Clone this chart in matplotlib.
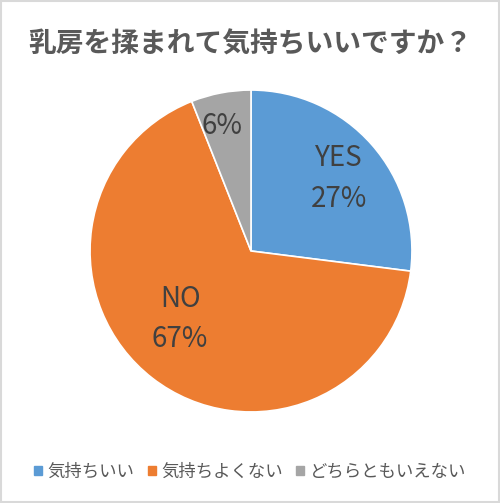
import numpy as np
import matplotlib.pyplot as plt
from matplotlib.patches import Rectangle

plt.rcParams['font.family'] = ['Noto Sans CJK JP', 'DejaVu Sans']

title = '乳房を揉まれて気持ちいいですか？'
categories = ['気持ちいい', '気持ちよくない', 'どちらともいえない']
slice_labels = ['YES\n27%', 'NO\n67%', '6%']
values = [27, 67, 6]
colors = ['#5B9BD5', '#ED7D31', '#A5A5A5']

fig = plt.figure(figsize=(5.0, 5.03), dpi=100)
ax = fig.add_axes([0.18, 0.181, 0.644, 0.640])

wedges, _ = ax.pie(values, colors=colors, startangle=90, counterclock=False,
                   wedgeprops=dict(edgecolor='white', linewidth=1.2))
ax.set_xlim(-1, 1)
ax.set_ylim(-1, 1)
ax.set_aspect('equal')

# where inside each wedge the label sits: (radius, fraction along the arc)
label_pos = [(0.71, 0.48), (0.61, 0.465), (0.80, 0.6)]
for w, lab, (r, f) in zip(wedges, slice_labels, label_pos):
    ang = np.deg2rad(w.theta1 + (w.theta2 - w.theta1) * f)
    ax.text(r * np.cos(ang), r * np.sin(ang), lab, ha='center', va='center',
            fontsize=20, color='#404040', linespacing=1.45)

fig.text(0.5, 0.912, title, ha='center', va='center', fontsize=20,
         fontweight='bold', color='#595959')

handles = [Rectangle((0, 0), 1, 1, color=c) for c in colors]
fig.legend(handles, categories, loc='center', bbox_to_anchor=(0.5, 0.062),
           ncol=3, frameon=False, fontsize=12.5, handlelength=0.45, handleheight=0.45,
           handletextpad=0.3, columnspacing=0.8, labelcolor='#595959')

fig.patches.append(Rectangle((0.002, 0.002), 0.996, 0.996, transform=fig.transFigure,
                             fill=False, edgecolor='#D9D9D9', linewidth=1.5))

fig.savefig('out.png', dpi=100)
